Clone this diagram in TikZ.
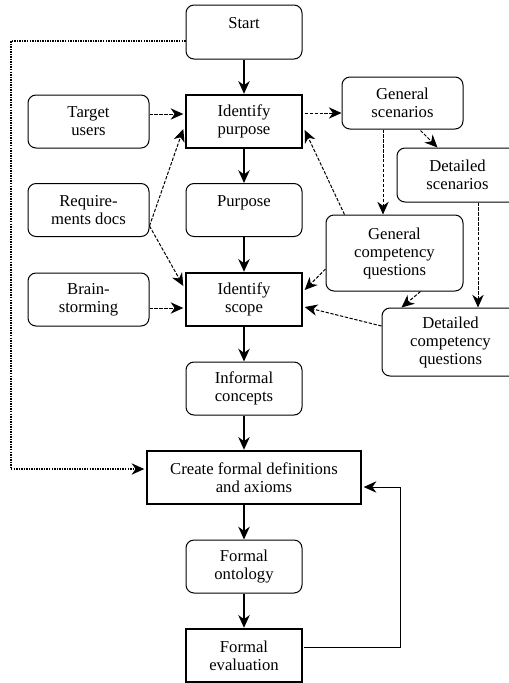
\documentclass[tikz,border=0pt]{standalone}
\usepackage{fontspec}
\setmainfont{Liberation Serif}[Ligatures=NoCommon]
\usetikzlibrary{arrows.meta,calc}
\begin{document}
\begin{tikzpicture}[x=0.75pt,y=-0.75pt,
  txt/.style={align=center, font=\fontsize{12.5}{13.5}\selectfont, inner sep=0pt},
  box/.style={txt, draw, rounded corners=6pt, line width=0.75pt, minimum width=87pt, minimum height=39.75pt},
  wide/.style={minimum width=90.75pt},
  tbox/.style={txt, draw, line width=1.8pt, minimum width=87pt, minimum height=39.75pt},
  tip/.style={-{Stealth[length=9.5pt,width=8.5pt,inset=3pt]}},
  solidarrow/.style={tip, line width=1.5pt},
  dasharrow/.style={tip, line width=0.75pt, dash pattern=on 2.5pt off 1.2pt},
  dotarrow/.style={tip, line width=1.1pt, dash pattern=on 1.1pt off 0.8pt},
  fbarrow/.style={tip, line width=0.75pt}]
\useasboundingbox (0,0) rectangle (509,683);
\clip (0,0) rectangle (509,683);
\fill[white] (0,0) rectangle (509,683);
% nodes
\node[box, minimum height=40.5pt] (start) at (244,32) {Start\\\mbox{}};
\node[tbox] (ip) at (244,121.5) {Identify\\purpose};
\node[box,wide] (tu) at (88.5,121.5) {Target\\users};
\node[box] (pur) at (244,210) {Purpose\\\mbox{}};
\node[box,wide] (rd) at (88.5,210) {Require-\\ments docs};
\node[tbox] (is) at (244,299.5) {Identify\\scope};
\node[box,wide] (bs) at (88.5,299.5) {Brain-\\storming};
\node[box] (ic) at (244,388.5) {Informal\\concepts};
\node[tbox, minimum width=160.5pt] (cf) at (254,477.5) {Create formal definitions\\and axioms};
\node[box] (fo) at (244,566.5) {Formal\\ontology};
\node[tbox] (fe) at (244,655.5) {Formal\\evaluation};
\node[box,wide, minimum height=39pt] (gs) at (402.5,103) {General\\scenarios};
\node[box,wide, minimum height=40.5pt] (ds) at (457.5,175) {Detailed\\scenarios};
\node[box, minimum width=102.75pt, minimum height=57pt] (gcq) at (394.5,253) {General\\competency\\questions};
\node[box, minimum width=102.75pt, minimum height=51pt] (dcq) at (450.5,342) {Detailed\\competency\\questions};
% main flow
\draw[solidarrow] (start) -- (ip);
\draw[solidarrow] (ip) -- (pur);
\draw[solidarrow] (pur) -- (is);
\draw[solidarrow] (is) -- (ic);
\draw[solidarrow] (ic.south) -- (ic.south |- cf.north);
\draw[solidarrow] (fo.north |- cf.south) -- (fo.north);
\draw[solidarrow] (fo) -- (fe);
% dashed inputs
\draw[dasharrow] ($(tu.east)+(0,-7.5)$) -- ($(ip.west)+(-1.5,-7.5)$);
\coordinate (rdo) at ($(rd.east)+(0,16)$);
\draw[dasharrow] (rdo) -- ($(ip.west)+(-1.5,7.5)$);
\draw[dasharrow] (rdo) -- ($(is.west)+(-1.5,-13.5)$);
\draw[dasharrow] ($(bs.east)+(0,8.5)$) -- ($(is.west)+(-1.5,8.5)$);
\draw[dasharrow] ($(ip.east)+(1.5,-8.5)$) -- ($(gs.west)+(0,10)$);
\draw[dasharrow] ($(gs.south east)+(-43,1)$) -- ($(ds.north west)+(41,0)$);
\draw[dasharrow] ($(gs.south)+(-19.5,0)$) -- ($(gcq.north)+(-11.5,0)$);
\draw[dasharrow] ($(gcq.north west)+(19,0)$) -- ($(ip.east)+(1.5,8.5)$);
\draw[dasharrow] ($(gcq.west)+(0,16)$) -- ($(is.east)+(1.5,-9.5)$);
\draw[dasharrow] ($(gcq.south east)+(-43,0)$) -- ($(dcq.north west)+(20,0)$);
\draw[dasharrow] ($(ds.south)+(20.5,0)$) -- ($(dcq.north)+(27.5,0)$);
\draw[dasharrow] ($(dcq.west)+(0,-16)$) -- ($(is.east)+(1.5,7.5)$);
% dotted bypass
\draw[dotarrow] ($(start.west)+(0,9)$) -| ($(cf.west)+(-135,-8.5)$) -- ($(cf.west)+(-1.5,-8.5)$);
% feedback loop
\draw[fbarrow] ($(fe.east)+(1,-8.5)$) -| ($(cf.east)+(38,9.5)$) -- ($(cf.east)+(1.5,9.5)$);
\end{tikzpicture}
\end{document}
